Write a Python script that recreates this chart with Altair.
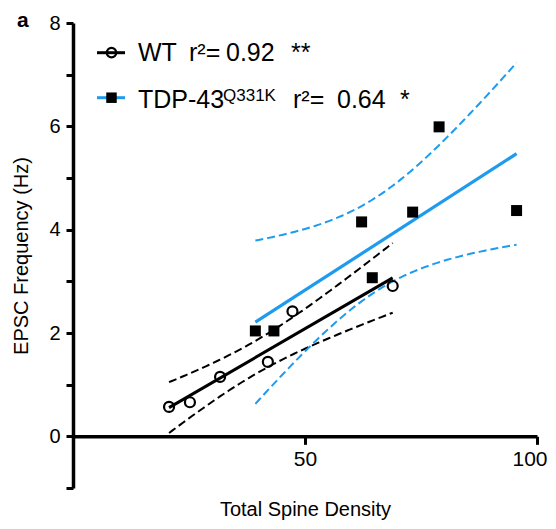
import numpy as np
import pandas as pd
import altair as alt

# ---- data ----
wt_x = [20.7, 25.2, 31.7, 42.0, 47.3, 68.9]
wt_y = [0.57, 0.66, 1.15, 1.44, 2.42, 2.91]
tdp_x = [39.3, 43.3, 62.2, 64.5, 73.2, 78.9, 95.6]
tdp_y = [2.04, 2.04, 4.15, 3.07, 4.34, 5.99, 4.37]

x_ticks = [50, 100]
y_ticks = list(range(-1, 9))

# two-sided 95% t critical values by degrees of freedom
T_CRIT_975 = {4: 2.7764, 5: 2.5706}

BLUE = "#1E9BEF"
FONT = "Liberation Sans"


def conf_band(xs, ys):
    """95% confidence band of the least-squares line (as drawn by Prism)."""
    x = np.asarray(xs, float)
    y = np.asarray(ys, float)
    n = len(x)
    slope, intercept = np.polyfit(x, y, 1)
    resid = y - (slope * x + intercept)
    s = np.sqrt(np.sum(resid ** 2) / (n - 2))
    sxx = np.sum((x - x.mean()) ** 2)
    grid = np.linspace(x.min(), x.max(), 80)
    fit = slope * grid + intercept
    half = T_CRIT_975[n - 2] * s * np.sqrt(1.0 / n + (grid - x.mean()) ** 2 / sxx)
    return pd.DataFrame({
        "x": np.concatenate([grid, grid]),
        "y": np.concatenate([fit - half, fit + half]),
        "side": ["lower"] * len(grid) + ["upper"] * len(grid),
    })


wt_df = pd.DataFrame({"x": wt_x, "y": wt_y})
tdp_df = pd.DataFrame({"x": tdp_x, "y": tdp_y})

x_axis = alt.Axis(
    values=x_ticks, offset=-51.67, grid=False,
    domainWidth=3.5, domainColor="black",
    tickColor="black", tickWidth=3, tickSize=8,
    labelFontSize=21, labelColor="black", labelPadding=4,
    labelFlush=1, labelFlushOffset=10,
    title="Total Spine Density", titleFontSize=20, titleFontWeight="normal",
    titleColor="black", titlePadding=30,
)
y_axis = alt.Axis(
    values=y_ticks, grid=False,
    labelExpr="datum.value % 2 == 0 ? datum.label : ''",
    domainWidth=3.5, domainColor="black",
    tickColor="black", tickWidth=3, tickSize=7,
    labelFontSize=20, labelColor="black", labelPadding=6,
    title="EPSC Frequency (Hz)", titleFontSize=20, titleFontWeight="normal",
    titleColor="black", titlePadding=17,
)
x_enc = alt.X("x:Q", scale=alt.Scale(domain=[0, 100], nice=False, zero=False), axis=x_axis)
y_enc = alt.Y("y:Q", scale=alt.Scale(domain=[-1, 8], nice=False, zero=False), axis=y_axis)

wt_band = alt.Chart(conf_band(wt_x, wt_y)).mark_line(
    color="black", strokeWidth=2, strokeDash=[8, 4]
).encode(x=x_enc, y=y_enc, detail="side:N")
tdp_band = alt.Chart(conf_band(tdp_x, tdp_y)).mark_line(
    color=BLUE, strokeWidth=2, strokeDash=[8, 4]
).encode(x=x_enc, y=y_enc, detail="side:N")

wt_fit = alt.Chart(wt_df).transform_regression("x", "y").mark_line(
    color="black", strokeWidth=3
).encode(x=x_enc, y=y_enc)
tdp_fit = alt.Chart(tdp_df).transform_regression("x", "y").mark_line(
    color=BLUE, strokeWidth=3.2
).encode(x=x_enc, y=y_enc)

wt_pts = alt.Chart(wt_df).mark_point(
    shape="circle", filled=False, size=100, strokeWidth=2.2, color="black", opacity=1
).encode(x=x_enc, y=y_enc)
tdp_pts = alt.Chart(tdp_df).mark_point(
    shape="square", filled=True, size=121, color="black", opacity=1
).encode(x=x_enc, y=y_enc)

one = pd.DataFrame({"k": [0]})


def label(text, x, y, size=25, weight="normal"):
    return alt.Chart(one).mark_text(
        text=text, font=FONT, fontSize=size, fontWeight=weight, color="black",
        align="left", baseline="alphabetic"
    ).encode(x=alt.value(x), y=alt.value(y))


def seg(x1, x2, y, color, width=3):
    return alt.Chart(one).mark_rule(color=color, strokeWidth=width).encode(
        x=alt.value(x1), x2=alt.value(x2), y=alt.value(y))


legend = [
    seg(24, 52, 29.7, "black"),
    alt.Chart(one).mark_point(shape="circle", filled=False, size=90, strokeWidth=2.2,
                              color="black", opacity=1).encode(x=alt.value(38.5), y=alt.value(29.7)),
    label("WT", 65, 38.3),
    label("r²=", 116, 38.3),
    label("0.92", 153, 38.3),
    label("**", 218, 38.3),
    seg(24, 52, 74.7, BLUE),
    alt.Chart(one).mark_point(shape="square", filled=True, size=110, color="black",
                              opacity=1).encode(x=alt.value(38.5), y=alt.value(74.7)),
    label("TDP-43", 65, 85.3),
    label("Q331K", 150, 78, size=17),
    label("r²=", 220, 85.3),
    label("0.64", 264, 85.3),
    label("*", 327, 85.3),
    label("a", -56, 4, size=21, weight="bold"),
]

chart = alt.layer(
    wt_band, tdp_band, wt_fit, tdp_fit, wt_pts, tdp_pts, *legend
).properties(
    width=464, height=465,
    padding={"left": 65, "top": 15, "right": 11, "bottom": 33},
    autosize=alt.AutoSizeParams(type="none"),
).configure_view(stroke=None).configure_axis(labelFont=FONT, titleFont=FONT)

chart.save("out.html", embed_options={"renderer": "svg", "actions": False})
